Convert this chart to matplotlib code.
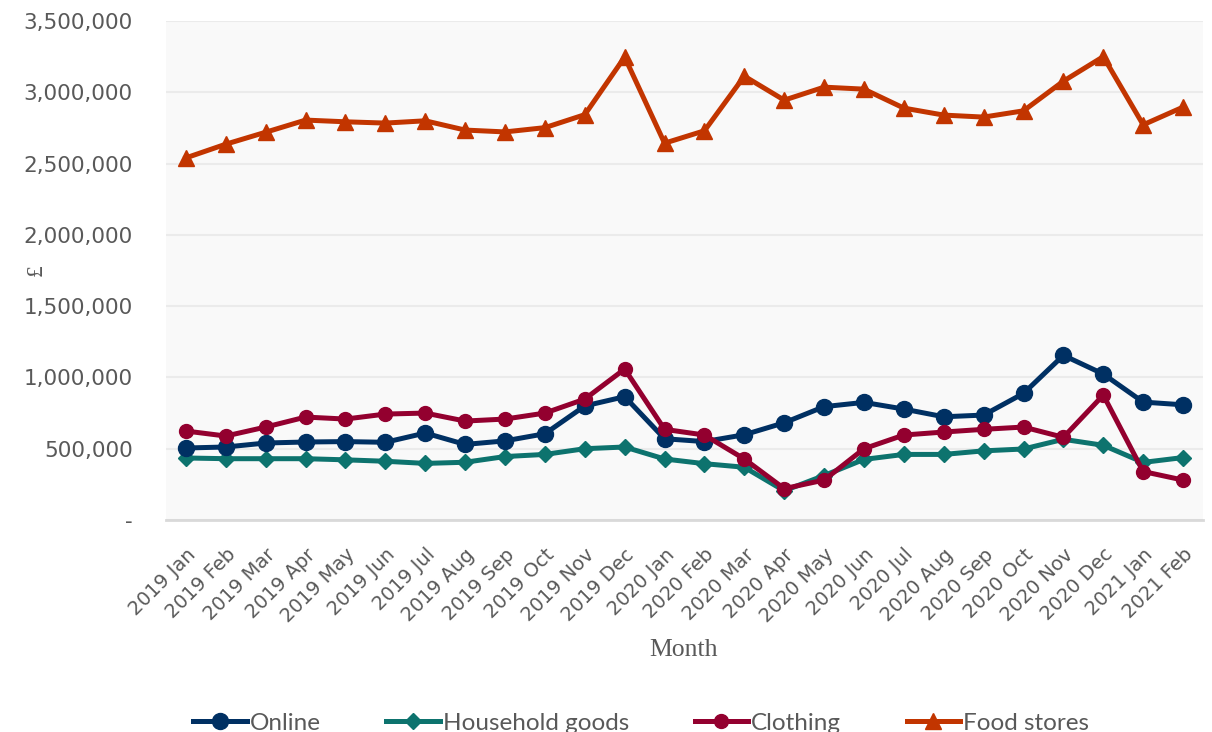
import matplotlib
matplotlib.use("Agg")
import matplotlib.pyplot as plt
from matplotlib.ticker import FuncFormatter

months = ["2019 Jan", "2019 Feb", "2019 Mar", "2019 Apr", "2019 May", "2019 Jun",
          "2019 Jul", "2019 Aug", "2019 Sep", "2019 Oct", "2019 Nov", "2019 Dec",
          "2020 Jan", "2020 Feb", "2020 Mar", "2020 Apr", "2020 May", "2020 Jun",
          "2020 Jul", "2020 Aug", "2020 Sep", "2020 Oct", "2020 Nov", "2020 Dec",
          "2021 Jan", "2021 Feb"]

online = [505000, 512000, 540000, 547000, 550000, 545000, 610000, 530000, 555000, 605000,
          800000, 865000, 570000, 550000, 598000, 682000, 795000, 825000, 778000, 724000,
          736000, 888000, 1155000, 1024000, 827000, 808000]
household = [435000, 430000, 430000, 430000, 422000, 412000, 397000, 405000, 445000, 460000,
             500000, 512000, 428000, 395000, 370000, 205000, 312000, 425000, 460000, 460000,
             485000, 498000, 566000, 524000, 404000, 438000]
clothing = [624000, 589000, 652000, 722000, 708000, 743000, 750000, 694000, 708000, 750000,
            848000, 1059000, 636000, 596000, 428000, 220000, 280000, 500000, 596000, 617000,
            636000, 652000, 580000, 876000, 340000, 280000]
food = [2540000, 2636000, 2720000, 2805000, 2793000, 2784000, 2800000, 2735000, 2722000, 2752000,
        2843000, 3247000, 2643000, 2730000, 3113000, 2945000, 3036000, 3022000, 2889000, 2840000,
        2826000, 2870000, 3078000, 3250000, 2772000, 2896000]

y_ticks = [0, 500000, 1000000, 1500000, 2000000, 2500000, 3000000, 3500000]

fig = plt.figure(figsize=(12.12, 7.32), dpi=100)
ax = fig.add_axes([166/1212, 1-520/732, (1203-166)/1212, (520-21)/732])
ax.set_facecolor("#f9f9f9")

x = list(range(len(months)))
ax.plot(x, online, color="#003063", lw=3.6, marker="o", ms=11.5, label="Online", zorder=3)
ax.plot(x, household, color="#0d736e", lw=3.6, marker="D", ms=8.5, label="Household goods", zorder=2)
ax.plot(x, clothing, color="#93002f", lw=3.6, marker="o", ms=10, label="Clothing", zorder=4)
ax.plot(x, food, color="#c23500", lw=3.6, marker="^", ms=12, label="Food stores", zorder=3)

ax.set_xlim(-0.5, len(months) - 0.5)
ax.set_ylim(0, 3500000)
ax.set_yticks(y_ticks)
ax.yaxis.set_major_formatter(FuncFormatter(lambda v, p: "-" if v == 0 else f"{int(v):,}"))
ax.grid(axis="y", color="#ebebeb", lw=1.5)
ax.set_axisbelow(True)
for s in ["top", "right", "left"]:
    ax.spines[s].set_visible(False)
ax.spines["bottom"].set_color("#d9d9d9")
ax.spines["bottom"].set_linewidth(2)

ax.set_xticks(x)
ax.set_xticklabels(months, rotation=45, ha="right", rotation_mode="anchor")
ax.tick_params(axis="x", length=0, pad=18, labelsize=14, labelcolor="#595959")
ax.tick_params(axis="y", length=0, pad=24, labelsize=15.5, labelcolor="#595959")

fig.text(684/1212, 1-650/732, "Month", ha="center", va="center",
         family="Liberation Serif", fontsize=18.5, color="#595959")
fig.text(36/1212, 1-270/732, "£", ha="center", va="center", rotation=90,
         family="Liberation Serif", fontsize=17, color="#595959")

leg = fig.legend(loc="center", bbox_to_anchor=(0.529, 1-723/732), ncol=4, frameon=False,
                 prop={"family": ["Lato", "DejaVu Sans"], "size": 17.5},
                 handlelength=2.2, handletextpad=0.12, columnspacing=2.7, labelcolor="#595959")

fig.savefig("out.png", dpi=100)
